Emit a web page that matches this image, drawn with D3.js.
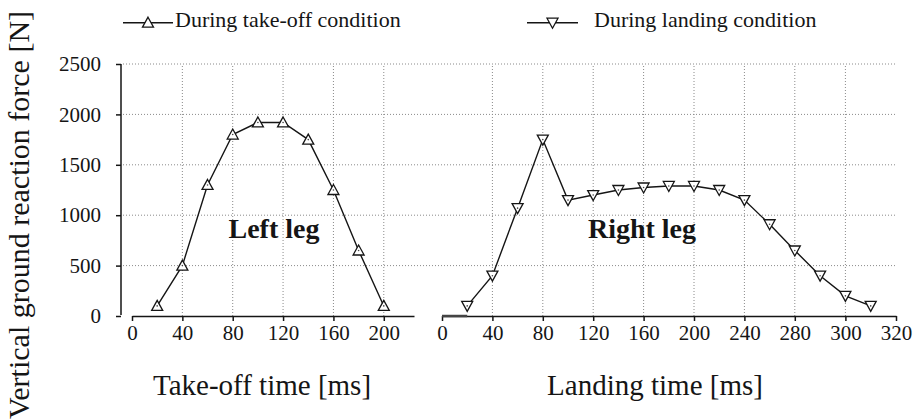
<!DOCTYPE html>
<html><head><meta charset="utf-8">
<script src="https://cdn.jsdelivr.net/npm/d3@7/dist/d3.min.js"></script>
<style>
body{margin:0;background:#fff;}
svg text{font-family:"Liberation Serif","DejaVu Serif",serif !important;}
</style></head>
<body><svg id="c" width="916" height="419"></svg>
<script>
// ---- data ----
const takeoffTime = [20,40,60,80,100,120,140,160,180,200];
const takeoffForce = [100,500,1300,1800,1920,1920,1750,1250,650,100];
const landingTime = [20,40,60,80,100,120,140,160,180,200,220,240,260,280,290,300,310];
const landingForce = [100,400,1070,1750,1150,1200,1250,1275,1290,1290,1250,1150,910,650,400,200,100];
const yTicks = [0,500,1000,1500,2000,2500];
const leftXTicks = [0,40,80,120,160,200];
const rightXTicks = [0,40,80,120,160,200,240,280,300,320];
const legendLabels = ["During take-off condition","During landing condition"];
const panelLabels = ["Left leg","Right leg"];
const xTitles = ["Take-off time [ms]","Landing time [ms]"];
const yTitle = "Vertical ground reaction force [N]";

const FONT = '"Liberation Serif","DejaVu Serif",serif';
const svg = d3.select("#c");
const ink = "#151515";
const y = d3.scaleLinear().domain([0,2500]).range([316,64]);
const xL = d3.scaleLinear().domain([0,224]).range([132,414]);
const xR = d3.scaleLinear().domain([0,280,320]).range([442,794.8,896]);

function txt(sel){ return sel.style("font-family",FONT).attr("fill",ink); }

// grid
const grid = svg.append("g").attr("stroke","#8a8a8a").attr("stroke-width",1).attr("stroke-dasharray","1,2");
yTicks.filter(d=>d>0).forEach(d=>{
  grid.append("line").attr("x1",123).attr("x2",897).attr("y1",y(d)).attr("y2",y(d));
});
leftXTicks.filter(d=>d>0).forEach(d=>{
  grid.append("line").attr("x1",xL(d)).attr("x2",xL(d)).attr("y1",y(0)).attr("y2",y(2500));
});
rightXTicks.filter(d=>d>0 && d<320).forEach(d=>{
  grid.append("line").attr("x1",xR(d)).attr("x2",xR(d)).attr("y1",y(0)).attr("y2",y(2500));
});

function styleAxis(g, size){
  g.attr("font-family",FONT);
  g.selectAll("path,line").attr("stroke",ink).attr("stroke-width",1.5);
  txt(g.selectAll("text")).attr("font-size",size);
}
// y axis
const ya = svg.append("g").attr("transform","translate(121,0)")
  .call(d3.axisLeft(y).tickValues(yTicks).tickFormat(d3.format("d")).tickSize(5).tickSizeOuter(0).tickPadding(15));
styleAxis(ya,"21px");
ya.select(".domain").attr("d",`M0,${y(0)-1}V${y(2500)}`);

// x axes
const xa1 = svg.append("g").attr("transform",`translate(0,${y(0)})`)
  .call(d3.axisBottom(xL).tickValues(leftXTicks).tickFormat(d3.format("d")).tickSize(5).tickSizeOuter(0).tickPadding(4));
styleAxis(xa1,"21px");
const xa2 = svg.append("g").attr("transform",`translate(0,${y(0)})`)
  .call(d3.axisBottom(xR).tickValues(rightXTicks).tickFormat(d3.format("d")).tickSize(5).tickSizeOuter(0).tickPadding(4));
styleAxis(xa2,"21px");
svg.append("line").attr("x1",xR(0)).attr("x2",xR(landingTime[0])).attr("y1",y(0)).attr("y2",y(0))
  .attr("stroke","#444").attr("stroke-width",2.5);

// lines
const lineL = d3.line().x((d,i)=>xL(takeoffTime[i])).y(d=>y(d));
const lineR = d3.line().x((d,i)=>xR(landingTime[i])).y(d=>y(d));
svg.append("path").attr("d",lineL(takeoffForce)).attr("fill","none").attr("stroke",ink).attr("stroke-width",1.4);
svg.append("path").attr("d",lineR(landingForce)).attr("fill","none").attr("stroke",ink).attr("stroke-width",1.4);

const up = "M0,-5.5L5.5,4.5L-5.5,4.5Z";
const down = "M0,5.5L5.5,-4.5L-5.5,-4.5Z";
function markers(xs, ys, sx, path){
  const g = svg.append("g");
  xs.forEach((t,i)=>{
    const m = g.append("g").attr("transform",`translate(${sx(t)},${y(ys[i])})`);
    m.append("path").attr("d",path).attr("fill","#fff").attr("stroke",ink).attr("stroke-width",1.3);
    m.append("circle").attr("r",0.8).attr("fill","#444");
  });
}
markers(takeoffTime, takeoffForce, xL, up);
markers(landingTime, landingForce, xR, down);

// panel labels
txt(svg.append("text")).attr("x",274).attr("y",238).attr("text-anchor","middle")
  .attr("font-size","28px").attr("font-weight","bold").text(panelLabels[0]);
txt(svg.append("text")).attr("x",642).attr("y",238).attr("text-anchor","middle")
  .attr("font-size","28px").attr("font-weight","bold").text(panelLabels[1]);

// x titles
txt(svg.append("text")).attr("x",262).attr("y",395).attr("text-anchor","middle").attr("font-size","29px").text(xTitles[0]);
txt(svg.append("text")).attr("x",655).attr("y",395).attr("text-anchor","middle").attr("font-size","29px").text(xTitles[1]);

// y title
txt(svg.append("text")).attr("transform","translate(29,215) rotate(-90)").attr("text-anchor","middle")
  .attr("font-size","30px").text(yTitle);

// legend
function legend(x1,x2,tx,label,path){
  const ly = 22.7;
  svg.append("line").attr("x1",x1).attr("x2",x2).attr("y1",ly).attr("y2",ly).attr("stroke",ink).attr("stroke-width",1.4);
  svg.append("path").attr("transform",`translate(${(x1+x2)/2},${ly})`).attr("d",path)
    .attr("fill","#fff").attr("stroke",ink).attr("stroke-width",1.3);
  txt(svg.append("text")).attr("x",tx).attr("y",27).attr("font-size","22px").text(label);
}
legend(123,173,175,legendLabels[0],up);
legend(527,578,594,legendLabels[1],down);
</script></body></html>
